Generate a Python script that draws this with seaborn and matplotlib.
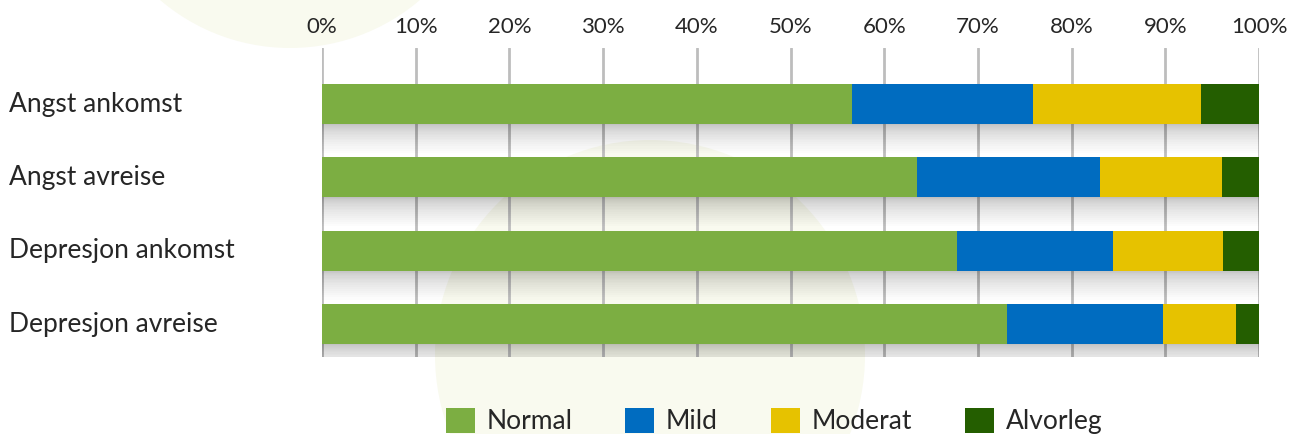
import numpy as np
import pandas as pd
import matplotlib
matplotlib.use("Agg")
import matplotlib.pyplot as plt
from matplotlib.patches import Circle
from matplotlib.transforms import blended_transform_factory
import seaborn as sns

categories = ["Angst ankomst", "Angst avreise", "Depresjon ankomst", "Depresjon avreise"]
normal = [56.6, 63.5, 67.8, 73.1]
mild = [19.3, 19.5, 16.6, 16.7]
moderat = [17.9, 13.0, 11.8, 7.7]
alvorleg = [6.2, 4.0, 3.8, 2.5]

levels = ["Normal", "Mild", "Moderat", "Alvorleg"]
colors = ["#7CAE42", "#006CC0", "#E6C200", "#245E00"]
ticks = np.arange(0, 101, 10)

sns.set_style("white")
plt.rcParams['font.family'] = ['Lato', 'DejaVu Sans']

fig = plt.figure(figsize=(12.9, 4.34), dpi=100)
# faint decorative circles behind the chart
for cx, cy, r in [(2.90, 5.86, 2.0), (6.50, 0.79, 2.15)]:
    fig.patches.append(Circle((cx, cy), r, transform=fig.dpi_scale_trans,
                              facecolor="#F9FAEF", edgecolor="none", zorder=0))

ax = fig.add_axes([0.2496, 0.1774, 0.7264, 0.7113])
ax.set_facecolor("none")
ax.set_zorder(2)

df = pd.DataFrame({"kategori": categories, "Normal": normal, "Mild": mild,
                   "Moderat": moderat, "Alvorleg": alvorleg})
cum = df[levels].cumsum(axis=1)

# soft shadow under each stack (darkest at the bar's lower edge)
ypos = np.arange(len(categories))
n = 22
for k in range(n):
    h = 0.40 * ((k + 1) / n) ** 1.8
    ax.barh(ypos + 0.27 + h / 2, cum["Alvorleg"], height=h,
            color="black", alpha=0.013, zorder=1, linewidth=0)

# stacked bars: draw cumulative totals from the largest down
for lvl, col in reversed(list(zip(levels, colors))):
    sns.barplot(x=cum[lvl], y=df["kategori"], orient="h", color=col,
                width=0.545, ax=ax, label=lvl, zorder=3, saturation=1,
                linewidth=0)

handles, labels = ax.get_legend_handles_labels()
if ax.get_legend() is not None:
    ax.get_legend().remove()

ax.set_xlim(0, 100)
ax.set_ylim(3.45, -0.76)
ax.set_xticks(ticks)
ax.set_xticklabels([f"{t}%" for t in ticks], fontsize=16, color="#262626")
ax.xaxis.tick_top()
ax.tick_params(axis="x", length=0, pad=8)
ax.grid(axis="x", color="#BDBDBD", linewidth=2, zorder=0)
ax.set_axisbelow(True)
ax.set_xlabel("")
ax.set_ylabel("")
ax.set_yticks([])
for s in ax.spines.values():
    s.set_visible(False)

trans = blended_transform_factory(fig.transFigure, ax.transData)
for i, c in enumerate(categories):
    ax.text(9 / 1290, i, c, transform=trans, ha="left", va="center",
            fontsize=19, color="#262626", clip_on=False)

order = [labels.index(l) for l in levels]
fig.legend([handles[i] for i in order], levels, loc="center",
           bbox_to_anchor=(0.600, 0.030), ncol=4, frameon=False, fontsize=19,
           handlelength=1.1, handleheight=1.1, columnspacing=2.0,
           handletextpad=0.45, labelcolor="#262626")

fig.savefig("out.png", dpi=100, facecolor="white")
